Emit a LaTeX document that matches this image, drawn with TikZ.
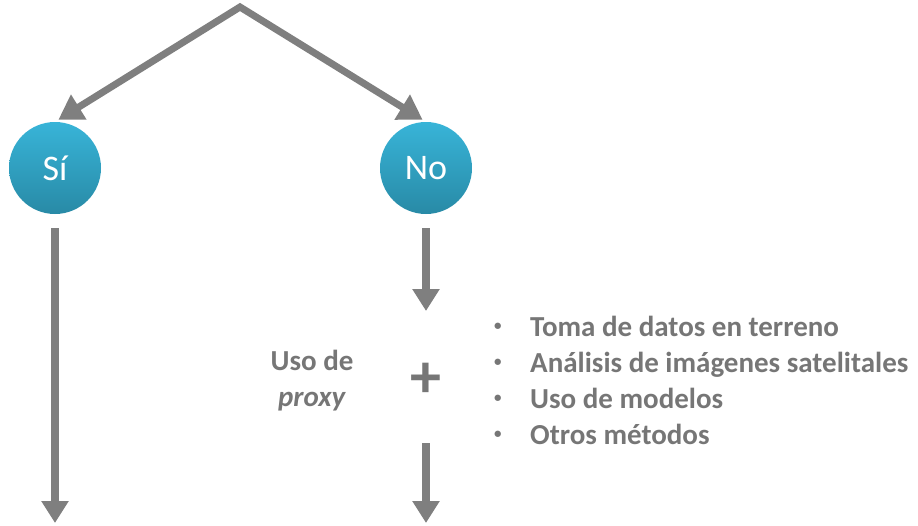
\documentclass[tikz,border=0pt]{standalone}
\usepackage{fontspec}
\setmainfont{Carlito}
\usepackage{tikz}
\usetikzlibrary{arrows.meta, positioning}
\definecolor{arrowGray}{RGB}{127, 127, 127}
\definecolor{textGray}{RGB}{118, 118, 118}
\definecolor{circleTop}{RGB}{56, 180, 216}
\definecolor{circleBottom}{RGB}{40, 138, 166}
\newcommand{\bulletmark}{\makebox[39pt][l]{\hspace*{3pt}\raisebox{6pt}{\fontsize{15}{15}\selectfont•}}}
\tikzset{
    decision_node/.style={
        circle,
        minimum size=92pt,
        inner sep=0pt,
        top color=circleTop,
        bottom color=circleBottom,
        draw=none,
        text=white,
        font=\fontsize{36}{40}\selectfont
    },
    flow_arrow/.style={
        -{Triangle[width=26pt, length=22pt]},
        line width=8pt,
        draw=arrowGray
    },
    note_text/.style={
        text=textGray,
        font=\bfseries\fontsize{29}{36}\selectfont,
        inner sep=0pt
    }
}

\begin{document}
\begin{tikzpicture}[x=1pt, y=-1pt]
    \useasboundingbox (0,0) rectangle (918,525);

    \coordinate (apex) at (240,7);
    \node[decision_node] (si) at (55,168) {Sí};
    \node[decision_node] (no) at (426,168) {No};

    % ramas desde arriba
    \draw[flow_arrow, {Triangle[width=28pt, length=24pt]}-{Triangle[width=28pt, length=24pt]}, line width=7pt, line join=miter, shorten <=4pt, shorten >=4pt]
        (si.north) -- (apex) -- (no.north);

    \coordinate (si_end) at (55,523);
    \coordinate (no_in) at (426,311);
    \coordinate (no_end) at (426,523);

    \node[note_text, font=\bfseries\fontsize{62}{62}\selectfont] (plus) at (426,380) {+};
    \node[note_text, align=center, anchor=base] (proxy) at (312,406) {Uso de\\\textit{proxy}};
    \node[note_text, align=left, anchor=base west] (methods) at (491,444)
        {\bulletmark Toma de datos en terreno\\
         \bulletmark Análisis de imágenes satelitales\\
         \bulletmark Uso de modelos\\
         \bulletmark Otros métodos};

    \draw[flow_arrow, shorten <=14pt] (si) -- (si_end);
    \draw[flow_arrow, shorten <=14pt] (no) -- (no_in);
    \draw[flow_arrow, shorten <=63pt] (plus.center) -- (no_end);
\end{tikzpicture}
\end{document}
